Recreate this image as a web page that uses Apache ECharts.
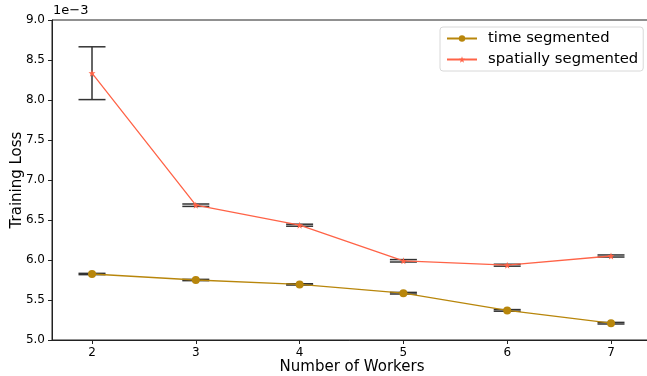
<!DOCTYPE html>
<html>
<head>
<meta charset="utf-8">
<script src="https://cdn.jsdelivr.net/npm/echarts@6/dist/echarts.min.js"></script>
<style>html,body{margin:0;padding:0;background:#fff}#c{width:647px;height:376px}</style>
</head>
<body>
<div id="c"></div>
<script>
// values in units of 1e-3
var workers = [2, 3, 4, 5, 6, 7];
var timeSeg = [5.825, 5.75, 5.695, 5.585, 5.37, 5.21];
var timeErr = [0.008, 0.008, 0.008, 0.01, 0.01, 0.01];
var spatialSeg = [8.335, 6.685, 6.435, 5.99, 5.935, 6.05];
var spatialErr = [0.33, 0.015, 0.0125, 0.015, 0.012, 0.013];
var yTicks = [5.0, 5.5, 6.0, 6.5, 7.0, 7.5, 8.0, 8.5, 9.0];

var font = 'DejaVu Sans';
var chart = echarts.init(document.getElementById('c'), null, {renderer: 'canvas'});

function pairs(xs, ys) { return xs.map(function (x, i) { return [x, ys[i]]; }); }
function errData(xs, ys, es) { return xs.map(function (x, i) { return [x, ys[i] - es[i], ys[i] + es[i]]; }); }

function errRender(params, api) {
  var x = api.value(0);
  var lo = api.coord([x, api.value(1)]);
  var hi = api.coord([x, api.value(2)]);
  var w = 13.5;
  var st = {stroke: '#333', lineWidth: 1.5};
  return {
    type: 'group',
    children: [
      {type: 'line', shape: {x1: lo[0], y1: lo[1], x2: hi[0], y2: hi[1]}, style: st},
      {type: 'line', shape: {x1: lo[0] - w, y1: lo[1], x2: lo[0] + w, y2: lo[1]}, style: st},
      {type: 'line', shape: {x1: hi[0] - w, y1: hi[1], x2: hi[0] + w, y2: hi[1]}, style: st}
    ]
  };
}

chart.setOption({
  animation: false,
  textStyle: {fontFamily: font},
  grid: {left: 52, top: 20, width: 600, height: 320, show: true, borderColor: '#222', borderWidth: 1,
         containLabel: false, outerBoundsMode: 'none'},
  graphic: [{type: 'text', left: 53, top: 4, style: {text: '1e\u22123', font: '13px "DejaVu Sans"', fill: '#000'}}],
  legend: {
    left: 440, top: 27, orient: 'vertical',
    backgroundColor: '#fff', borderColor: '#d8d8d8', borderWidth: 1, borderRadius: 3,
    padding: [4, 5, 4, 6], itemGap: 6, itemWidth: 30, itemHeight: 8,
    textStyle: {fontFamily: font, fontSize: 14.8, color: '#000', padding: [0, 0, 0, 6]},
    data: ['time segmented', 'spatially segmented']
  },
  xAxis: {
    type: 'value', min: 1.6146, max: 1.6146 + 600 / 103.8,
    name: 'Number of Workers', nameLocation: 'middle', nameGap: 20, nameMoveOverlap: false,
    nameTextStyle: {fontFamily: font, fontSize: 15, color: '#000', verticalAlign: 'top'},
    axisLine: {lineStyle: {color: '#222', width: 1}},
    axisTick: {show: true, length: 4, lineStyle: {color: '#222'}, customValues: workers},
    axisLabel: {fontFamily: font, fontSize: 12, color: '#000', margin: 7, customValues: workers, formatter: function (v) { return String(v); }},
    splitLine: {show: false}
  },
  yAxis: {
    type: 'value', min: 5, max: 9, interval: 0.5,
    name: 'Training Loss', nameLocation: 'middle', nameGap: 27, nameRotate: 90, nameMoveOverlap: false,
    nameTextStyle: {fontFamily: font, fontSize: 15, color: '#000'},
    axisLine: {show: true, lineStyle: {color: '#222', width: 1}},
    axisTick: {show: true, length: 4, lineStyle: {color: '#222'}},
    axisLabel: {fontFamily: font, fontSize: 12, color: '#000', margin: 7, formatter: function (v) { return v.toFixed(1); }},
    splitLine: {show: false}
  },
  series: [
    {type: 'custom', name: 'errT', renderItem: errRender, data: errData(workers, timeSeg, timeErr), z: 1, encode: {x: 0, y: [1, 2]}},
    {type: 'custom', name: 'errS', renderItem: errRender, data: errData(workers, spatialSeg, spatialErr), z: 1, encode: {x: 0, y: [1, 2]}},
    {type: 'line', name: 'time segmented', data: pairs(workers, timeSeg), z: 3,
     symbol: 'circle', symbolSize: 8, showAllSymbol: true,
     lineStyle: {color: '#b8860b', width: 1.3}, itemStyle: {color: '#b8860b'}},
    {type: 'line', name: 'spatially segmented', data: pairs(workers, spatialSeg), z: 3,
     symbol: 'path://M0,-10 L2.35,-3.24 L9.51,-3.09 L3.8,1.24 L5.88,8.09 L0,4 L-5.88,8.09 L-3.8,1.24 L-9.51,-3.09 L-2.35,-3.24 Z', symbolSize: 7, showAllSymbol: true,
     lineStyle: {color: '#ff6347', width: 1.3}, itemStyle: {color: '#ff6347'}}
  ]
});
</script>
</body>
</html>
